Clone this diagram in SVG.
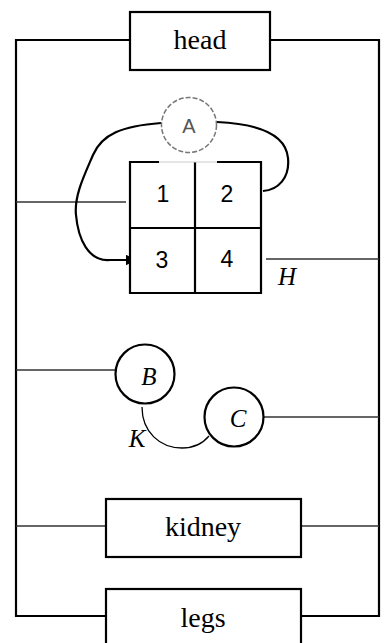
<svg xmlns="http://www.w3.org/2000/svg" width="390" height="643" viewBox="0 0 390 643">
<defs>
<style>
.box{fill:#fff;stroke:#000;stroke-width:2.2}
.frame{fill:none;stroke:#000;stroke-width:2.2}
.thin{fill:none;stroke:#333;stroke-width:1.4}
.curve{fill:none;stroke:#000;stroke-width:2.2}
.circ{fill:#fff;stroke:#000;stroke-width:2.2}
.serif{font-family:"Liberation Serif","Times New Roman",serif;font-size:28px;fill:#000;text-anchor:middle}
.num{font-family:"Liberation Sans",Arial,sans-serif;font-size:23px;fill:#000;text-anchor:middle}
.ital{font-family:"Liberation Serif","Times New Roman",serif;font-style:italic;font-size:25px;fill:#000;text-anchor:middle}
</style>
<marker id="dot" viewBox="0 0 6 6" refX="3" refY="3" markerWidth="5" markerHeight="5" orient="auto"><path d="M0,0 L6,3 L0,6 z" fill="#000"/></marker>
</defs>
<g id="connectors">
<path class="frame" d="M130,40 H16 V616 H106 M270,40 H379 V616 H301"/>
<line class="thin" x1="16" y1="202" x2="126" y2="202"/>
<line class="thin" x1="266" y1="259" x2="379" y2="259"/>
<line class="thin" x1="16" y1="370" x2="115" y2="370"/>
<line class="thin" x1="264" y1="417" x2="379" y2="417"/>
<line class="thin" x1="16" y1="526" x2="106" y2="526"/>
<line class="thin" x1="301" y1="526" x2="379" y2="526"/>
<path class="curve" d="M161,123 C122,126 102,134 93,155 C84,176 74,196 76,215 C78,238 88,262 110,260 L131,260" marker-end="url(#dot)"/>
<path class="curve" d="M217,122 C262,124 286,136 288,158 C290,178 278,190 263,191"/>
<path fill="none" stroke="#000" stroke-width="1.3" d="M142,407 C142,432 160,448 182,448 C195,448 204,442 209,436"/>
</g>
<g id="head"><rect class="box" x="130" y="12" width="140" height="58"/><text class="serif" x="200" y="49">head</text></g>
<g id="A"><circle cx="189" cy="125" r="27.5" fill="#fff" stroke="#777" stroke-width="1.5" stroke-dasharray="5 2"/><text x="189" y="133" font-family="Liberation Sans,Arial,sans-serif" font-size="20" fill="#555" text-anchor="middle">A</text></g>
<g id="grid">
<rect x="130" y="162" width="131" height="131" fill="#fff" stroke="none"/>
<path fill="none" stroke="#000" stroke-width="2.2" d="M159,162 H130 V293 H261 V162 H217 M195,162 V293 M130,228 H261"/>
<line x1="159" y1="162" x2="217" y2="162" stroke="#ccc" stroke-width="1"/>
<text class="num" x="163" y="202">1</text>
<text class="num" x="227" y="202">2</text>
<text class="num" x="162" y="268">3</text>
<text class="num" x="227" y="267">4</text>
</g>
<g id="H"><text class="ital" x="287" y="285">H</text></g>
<g id="B"><circle class="circ" cx="145" cy="374" r="29.5"/><text class="ital" x="149" y="385">B</text></g>
<g id="C"><circle class="circ" cx="234" cy="417" r="29.5"/><text class="ital" x="238" y="427">C</text></g>
<g id="K"><text class="ital" x="137" y="447">K</text></g>
<g id="kidney"><rect class="box" x="106" y="499" width="195" height="58"/><text class="serif" x="203" y="536">kidney</text></g>
<g id="legs"><rect class="box" x="106" y="589" width="195" height="60"/><text class="serif" x="203" y="627">legs</text></g>
</svg>
